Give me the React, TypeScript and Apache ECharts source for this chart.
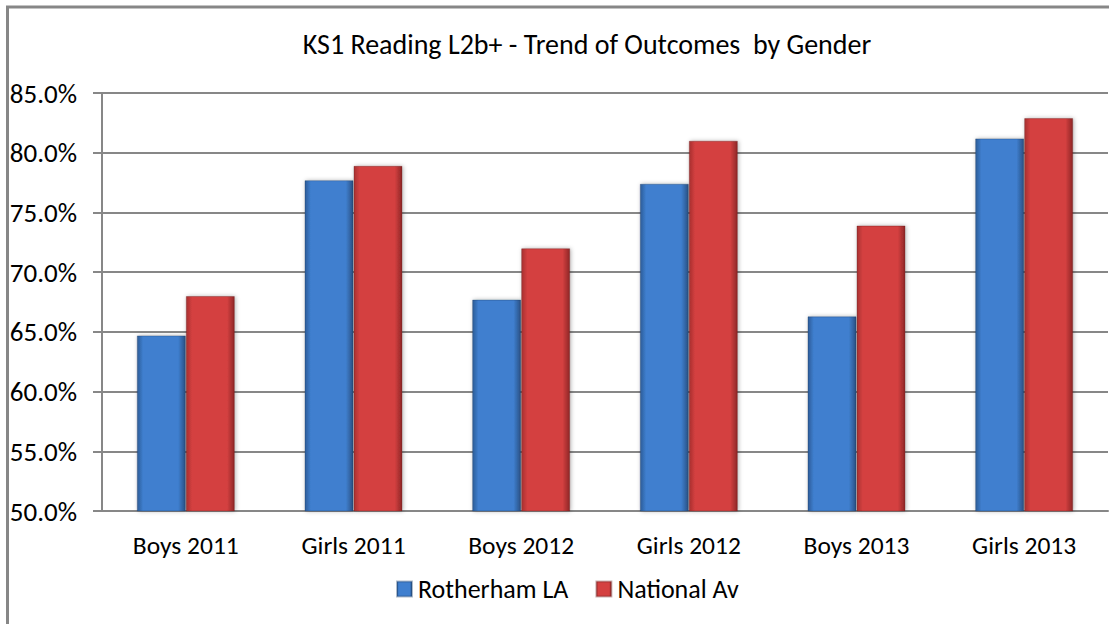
import React, { useEffect, useRef } from "react";
import * as echarts from "echarts";

const categories = ["Boys 2011", "Girls 2011", "Boys 2012", "Girls 2012", "Boys 2013", "Girls 2013"];
const rotherham = [64.7, 77.7, 67.7, 77.4, 66.3, 81.2];
const national = [68.0, 78.9, 72.0, 81.0, 73.9, 82.9];
const seriesNames = ["Rotherham LA", "National Av"];
const titleText = "KS1 Reading L2b+ - Trend of Outcomes  by Gender";

const FONT = "Carlito, Lato, 'Open Sans', sans-serif";

function hGrad(edge: string, mid: string, right: string) {
  return new echarts.graphic.LinearGradient(0, 0, 1, 0, [
    { offset: 0, color: edge },
    { offset: 0.12, color: mid },
    { offset: 0.85, color: mid },
    { offset: 1, color: right },
  ]);
}

export default function App() {
  const ref = useRef<HTMLDivElement>(null);
  useEffect(() => {
    if (!ref.current) return;
    const chart = echarts.init(ref.current, null, { renderer: "svg" });
    chart.setOption({
      animation: false,
      backgroundColor: "#ffffff",
      textStyle: { fontFamily: FONT },
      title: {
        text: titleText,
        left: 582,
        textAlign: "center",
        top: 25,
        textStyle: { fontFamily: FONT, fontSize: 28, fontWeight: "normal", color: "#000" },
      },
      graphic: [
        {
          type: "rect",
          shape: { x: 7.5, y: 7, width: 1300, height: 800 },
          style: { fill: "none", stroke: "#878787", lineWidth: 3 },
          silent: true,
        },
      ],
      legend: {
        left: 391,
        top: 571,
        itemWidth: 15,
        itemHeight: 15,
        itemGap: 27,
        icon: "rect",
        textStyle: { fontFamily: FONT, fontSize: 26, color: "#000", padding: [0, 0, 0, 1] },
        data: seriesNames,
      },
      grid: { left: 102, right: 1, top: 93, bottom: 113, containLabel: false },
      xAxis: {
        type: "category",
        data: categories,
        axisLine: { lineStyle: { color: "#878787", width: 2 } },
        axisTick: { length: 9, lineStyle: { color: "#878787", width: 2 } },
        axisLabel: { fontFamily: FONT, fontSize: 25.5, color: "#000", margin: 21 },
      },
      yAxis: {
        type: "value",
        min: 50,
        max: 85,
        interval: 5,
        axisLine: { show: true, lineStyle: { color: "#878787", width: 2 } },
        axisTick: { show: true, length: 9, lineStyle: { color: "#878787", width: 2 } },
        splitLine: { lineStyle: { color: "#878787", width: 2 } },
        axisLabel: {
          fontFamily: FONT,
          fontSize: 27,
          color: "#000",
          margin: 25,
          formatter: (v: number) => v.toFixed(1) + "%",
        },
      },
      series: [
        {
          name: seriesNames[0],
          type: "bar",
          data: rotherham,
          barWidth: 49,
          barGap: "0%",
          itemStyle: {
            color: hGrad("#2c5c98", "#3f7fcf", "#2a5286"),
            borderColor: "rgba(30,60,100,0.35)",
            borderWidth: 1,
            shadowBlur: 4,
            shadowColor: "rgba(0,0,0,0.3)",
            shadowOffsetX: 1,
            shadowOffsetY: 0,
          },
        },
        {
          name: seriesNames[1],
          type: "bar",
          data: national,
          barWidth: 49,
          barGap: "0%",
          itemStyle: {
            color: hGrad("#a83030", "#d44040", "#8e2727"),
            borderColor: "rgba(100,30,30,0.35)",
            borderWidth: 1,
            shadowBlur: 4,
            shadowColor: "rgba(0,0,0,0.3)",
            shadowOffsetX: 1,
            shadowOffsetY: 0,
          },
        },
      ],
    });
    return () => chart.dispose();
  }, []);
  return (
    <div
      ref={ref}
      style={{ position: "fixed", left: 0, top: 0, width: 1109, height: 624 }}
    />
  );
}
